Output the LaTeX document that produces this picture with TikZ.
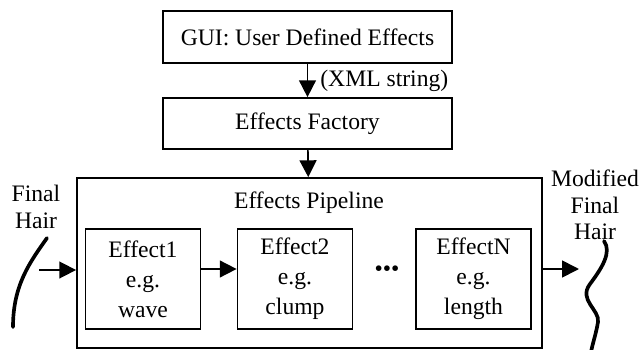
\documentclass[tikz,border=0pt]{standalone}
\usepackage{fontspec}
\setmainfont{Liberation Serif}
\usetikzlibrary{arrows.meta, positioning, calc}

\tikzset{
  txt/.style={font=\fontsize{16.8}{19}\selectfont, align=center, inner sep=0pt},
  block/.style={draw, line width=1.2pt, font=\fontsize{16.8}{19}\selectfont,
    minimum width=7.225cm, minimum height=1.3cm},
  fxbox/.style={draw, line width=1.2pt, font=\fontsize{16.8}{21.3}\selectfont,
    align=center, minimum width=2.875cm, minimum height=2.5cm},
  flow/.style={-{Triangle[length=0.42cm,width=0.42cm]}, line width=1.2pt},
  hair/.style={line width=2.6pt, line cap=round}
}

\begin{document}
\begin{tikzpicture}[x=0.025cm, y=-0.025cm]
\useasboundingbox (0,0) rectangle (641,350);

% GUI and factory
\node[block] (gui) at (307.5, 37) {GUI: User Defined Effects};
\node[block, minimum height=1.275cm] (factory) at (307.5, 123.5) {Effects Factory};
\draw[flow] (gui) -- (factory) node[midway, right=0.3cm, txt] {(XML string)};

% Pipeline
\node[draw, line width=1.2pt, minimum width=11.625cm, minimum height=4.25cm] (pipe) at (309.5, 263) {};
\node[txt] (pipetitle) at (309, 203) {Effects Pipeline};
\draw[flow] (factory) -- (pipe);

% Effects
\node[fxbox] (e1) at (143, 279) {Effect1\\e.g.\\wave};
\node[fxbox] (e2) at (295, 279) {Effect2\\e.g.\\clump};
\node[fxbox] (en) at (473.5, 279) {EffectN\\e.g.\\length};
\draw[flow] ([yshift=0.25cm]e1.east) -- ([yshift=0.25cm]e2.west);
\node[txt] (dots) at (387, 271) {\textbullet\textbullet\textbullet};

% Hair in and out
\node[txt] (hairin) at (36, 207) {Final\\Hair};
\node[txt] (hairout) at (595, 205) {Modified\\Final\\Hair};
\coordinate (inarrow) at (39, 270);
\coordinate (outarrow) at (579, 269);
\draw[flow] (inarrow) -- (inarrow -| pipe.west);
\draw[flow] (outarrow -| pipe.east) -- (outarrow);
\draw[hair] (47, 238) .. controls (30, 262) and (13, 285) .. (13, 327);
\draw[hair] (604, 241) .. controls (612, 252) and (602, 268) .. (590, 284)
  .. controls (578, 300) and (600, 310) .. (598, 322)
  .. controls (596, 334) and (593, 342) .. (591, 352);
\end{tikzpicture}
\end{document}
